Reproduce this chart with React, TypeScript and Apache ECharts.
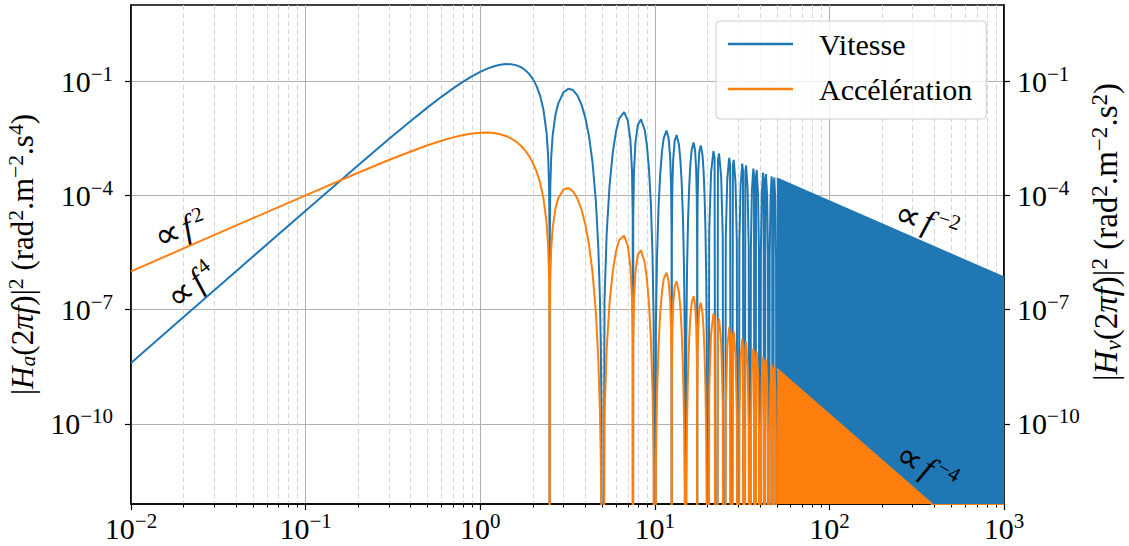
import React, { useEffect, useRef } from "react";
import * as echarts from "echarts";

// ---------------- data ----------------
// Main hump and second lobe, 0.01 Hz - 5 Hz
const FREQ_A = [0.01, 0.02, 0.05, 0.1, 0.2, 0.3, 0.4, 0.5, 0.6, 0.7, 0.8, 0.9, 1.0, 1.1, 1.2, 1.3, 1.4, 1.5, 1.6, 1.7, 1.8, 1.9, 2.0, 2.1, 2.2, 2.3, 2.4, 2.45, 2.48, 2.495, 2.5, 2.505, 2.52, 2.55, 2.6, 2.7, 2.8, 3.0, 3.2, 3.4, 3.6, 3.8, 4.0, 4.2, 4.4, 4.6, 4.75, 4.85, 4.9, 4.95];
const VIT_A = [4.0e-9, 6.4e-8, 2.49e-6, 3.97e-5, 6.2e-4, 3.02e-3, 9.02e-3, 0.0205, 0.0388, 0.0647, 0.0975, 0.1354, 0.1755, 0.2139, 0.2468, 0.2705, 0.282, 0.2798, 0.2641, 0.2364, 0.1996, 0.1576, 0.1148, 0.0753, 0.0424, 0.0184, 4.4e-3, 1.065e-3, 1.668e-4, 1.03e-5, 0, 1.02e-5, 1.616e-4, 9.83e-4, 3.75e-3, 0.01336, 0.02615, 0.051, 0.0632, 0.0585, 0.0426, 0.0246, 0.01097, 3.54e-3, 7.22e-4, 6.82e-5, 4.12e-6, 1.9e-7, 1.65e-8, 2.5e-10];
const ACC_A = [1.01e-6, 4.05e-6, 2.53e-5, 1.005e-4, 3.93e-4, 8.49e-4, 1.427e-3, 2.075e-3, 2.733e-3, 3.345e-3, 3.859e-3, 4.234e-3, 4.444e-3, 4.478e-3, 4.342e-3, 4.054e-3, 3.644e-3, 3.15e-3, 2.613e-3, 2.072e-3, 1.56e-3, 1.106e-3, 7.27e-4, 4.32e-4, 2.22e-4, 8.81e-5, 1.93e-5, 4.5e-6, 6.87e-7, 4.19e-8, 0, 4.13e-8, 6.44e-7, 3.83e-6, 1.404e-5, 4.64e-5, 8.45e-5, 1.436e-4, 1.562e-4, 1.282e-4, 8.33e-5, 4.32e-5, 1.736e-5, 5.08e-6, 9.45e-7, 8.16e-8, 4.62e-9, 2.05e-10, 1.74e-11, 2.6e-13];

// Lobes 5 Hz - 20 Hz
const FREQ_B = [
  5, 5.15, 5.3, 5.5, 5.75, 6, 6.25, 6.67, 7, 7.25, 7.4, 7.475, 7.5, 7.525, 7.6, 7.75, 8, 8.33, 8.75, 9, 9.25, 9.5, 9.7, 9.85,
  10, 10.15, 10.3, 10.5, 10.75, 11, 11.25, 11.67, 12, 12.25, 12.4, 12.475, 12.5, 12.525, 12.6, 12.75, 13, 13.33, 13.75, 14, 14.25, 14.5, 14.7, 14.85,
  15, 15.15, 15.3, 15.5, 15.75, 16, 16.25, 16.67, 17, 17.25, 17.4, 17.475, 17.5, 17.525, 17.6, 17.75, 18, 18.33, 18.75, 19, 19.25, 19.5, 19.7, 19.85,
];
const VIT_B = [
  0, 1.69e-7, 9.67e-6, 1.692e-4, 1.367e-3, 4.87e-3, 0.0104, 0.01541, 9.37e-3, 2.809e-3, 4.62e-4, 2.87e-5, 0, 2.83e-5, 4.38e-4, 2.459e-3, 7.18e-3, 9.88e-3, 5.31e-3, 2.166e-3, 5.28e-4, 5.67e-5, 2.89e-6, 4.61e-8,
  0, 4.34e-8, 2.56e-6, 4.64e-5, 3.91e-4, 1.45e-3, 3.21e-3, 5.03e-3, 3.19e-3, 9.84e-4, 1.647e-4, 1.03e-5, 0, 1.022e-5, 1.595e-4, 9.08e-4, 2.718e-3, 3.858e-3, 2.149e-3, 8.95e-4, 2.225e-4, 2.435e-5, 1.256e-6, 2.03e-8,
  0, 1.95e-8, 1.16e-6, 2.131e-5, 1.821e-4, 6.85e-4, 1.539e-3, 2.467e-3, 1.589e-3, 4.96e-4, 8.36e-5, 5.25e-6, 0, 5.22e-6, 8.18e-5, 4.69e-4, 1.418e-3, 2.04e-3, 1.156e-3, 4.86e-4, 1.219e-4, 1.346e-5, 7.0e-7, 1.14e-8,
];
const ACC_B = [
  0, 1.61e-10, 8.72e-9, 1.417e-7, 1.047e-6, 3.43e-6, 6.74e-6, 8.77e-6, 4.85e-6, 1.354e-6, 2.14e-7, 1.3e-8, 0, 1.27e-8, 1.92e-7, 1.037e-6, 2.84e-6, 3.61e-6, 1.756e-6, 6.77e-7, 1.563e-7, 1.59e-8, 7.77e-10, 1.2e-11,
  0, 1.07e-11, 6.11e-10, 1.067e-8, 8.57e-8, 3.04e-7, 6.42e-7, 9.36e-7, 5.61e-7, 1.661e-7, 2.71e-8, 1.68e-9, 0, 1.65e-9, 2.55e-8, 1.416e-7, 4.07e-7, 5.5e-7, 2.88e-7, 1.157e-7, 2.78e-8, 2.93e-9, 1.47e-10, 2.3e-12,
  0, 2.2e-12, 1.26e-10, 2.25e-9, 1.86e-8, 6.78e-8, 1.476e-7, 2.249e-7, 1.393e-7, 4.22e-8, 7.0e-9, 4.35e-10, 0, 4.3e-10, 6.69e-9, 3.77e-8, 1.108e-7, 1.538e-7, 8.33e-8, 3.41e-8, 8.33e-9, 8.97e-10, 4.57e-11, 7.3e-13,
];

// Lobes 20 Hz - 50 Hz
const FREQ_C = [
  20, 20.5, 21, 21.67, 22, 22.5, 23, 23.33, 24, 24.5,
  25, 25.5, 26, 26.67, 27, 27.5, 28, 28.33, 29, 29.5,
  30, 30.5, 31, 31.67, 32, 32.5, 33, 33.33, 34, 34.5,
  35, 35.5, 36, 36.67, 37, 37.5, 38, 38.33, 39, 39.5,
  40, 40.5, 41, 41.67, 42, 42.5, 43, 43.33, 44, 44.5,
  45, 45.5, 46, 46.67, 47, 47.5, 48, 48.33, 49, 49.5, 50,
];
const VIT_C = [
  0, 1.218e-5, 3.98e-4, 1.46e-3, 9.49e-4, 0, 8.68e-4, 1.26e-3, 3.05e-4, 8.53e-6,
  0, 7.87e-6, 2.595e-4, 9.64e-4, 6.3e-4, 0, 5.86e-4, 8.54e-4, 2.086e-4, 5.88e-6,
  0, 5.5e-6, 1.826e-4, 6.84e-4, 4.49e-4, 0, 4.22e-4, 6.17e-4, 1.518e-4, 4.3e-6,
  0, 4.06e-6, 1.354e-4, 5.1e-4, 3.36e-4, 0, 3.18e-4, 4.67e-4, 1.154e-4, 3.28e-6,
  0, 3.12e-6, 1.044e-4, 3.95e-4, 2.6e-4, 0, 2.48e-4, 3.65e-4, 9.06e-5, 2.59e-6,
  0, 2.47e-6, 8.29e-5, 3.15e-4, 2.08e-4, 0, 1.99e-4, 2.94e-4, 7.31e-5, 2.09e-6, 0,
];
const ACC_C = [
  0, 7.34e-10, 2.29e-8, 7.88e-8, 4.97e-8, 0, 4.16e-8, 5.86e-8, 1.34e-8, 3.6e-10,
  0, 3.07e-10, 9.73e-9, 3.43e-8, 2.19e-8, 0, 1.89e-8, 2.7e-8, 6.28e-9, 1.71e-10,
  0, 1.5e-10, 4.81e-9, 1.73e-8, 1.11e-8, 0, 9.81e-9, 1.41e-8, 3.33e-9, 9.15e-11,
  0, 8.17e-11, 2.65e-9, 9.6e-9, 6.21e-9, 0, 5.58e-9, 8.05e-9, 1.92e-9, 5.33e-11,
  0, 4.82e-11, 1.57e-9, 5.76e-9, 3.74e-9, 0, 3.4e-9, 4.93e-9, 1.19e-9, 3.31e-11,
  0, 3.03e-11, 9.93e-10, 3.66e-9, 2.38e-9, 0, 2.19e-9, 3.18e-9, 7.71e-10, 2.16e-11, 0,
];

// Above 50 Hz the lobes merge into a solid band under their envelope
const FREQ_ENV = [50, 1000];
const VIT_ENV = [2.8e-4, 7.0e-7];
const ACC_ENV = [2.8e-9, 1.75e-14];

const SERIES_NAMES = ["Vitesse", "Accélération"];
const X_MIN = 0.01;
const X_MAX = 1000;
const Y_MIN = 7.9e-13;
const Y_MAX = 10;
const Y_TICKS = [1e-10, 1e-7, 1e-4, 1e-1];
const X_DECADES = [0.01, 0.1, 1, 10, 100];
const X_MINOR_MULT = [2, 3, 4, 5, 6, 7, 8, 9];

const LEFT_TITLE = "{n||}{i|H}{sub|a}{n|(2}{i|πf}{n|)|}{sup|2}{n| (rad}{sup|2}{n|.m}{sup|−2}{n|.s}{sup|4}{n|)}";
const RIGHT_TITLE = "{n||}{i|H}{sub|v}{n|(2}{i|πf}{n|)|}{sup|2}{n| (rad}{sup|2}{n|.m}{sup|−2}{n|.s}{sup|2}{n|)}";

const ANNOTATIONS = [
  { text: "{p|∝}{g| }{i|f}{s|2}", x: 180, y: 229, angle: 20 },
  { text: "{p|∝}{g| }{i|f}{s|4}", x: 191, y: 285, angle: 38 },
  { text: "{p|∝}{g| }{i|f}{s|−2}", x: 927, y: 221, angle: -18 },
  { text: "{p|∝}{g| }{i|f}{s|−4}", x: 927, y: 467, angle: -30 },
];

// ---------------- styling ----------------
const BLUE = "#1f77b4";
const ORANGE = "#ff7f0e";
const FONT = "'Liberation Serif', 'DejaVu Serif', serif";
const BELOW_AXIS = 1e-30; // true zeros of the response, drawn off the bottom of the log axis

const pairs = (fs: number[], vs: number[]) => fs.map((f, i) => [f, vs[i] > 0 ? vs[i] : BELOW_AXIS]);

const powLabel = (v: number) => {
  const e = Math.round(Math.log10(v));
  return `{b|10}{e|${e < 0 ? "−" + -e : e}}`;
};

const tickRich = {
  b: { fontFamily: FONT, fontSize: 30, lineHeight: 36, color: "#000" },
  e: { fontFamily: FONT, fontSize: 21, lineHeight: 18, verticalAlign: "top", color: "#000" },
};

const makeTitleRich = (size: number, key: "color" | "fill") => ({
  n: { fontFamily: FONT, fontSize: size, lineHeight: size * 1.1, [key]: "#000" },
  i: { fontFamily: FONT, fontSize: size, lineHeight: size * 1.1, fontStyle: "italic", [key]: "#000" },
  sub: { fontFamily: FONT, fontSize: size * 0.7, lineHeight: size * 0.7, verticalAlign: "bottom", fontStyle: "italic", [key]: "#000" },
  sup: { fontFamily: FONT, fontSize: size * 0.7, lineHeight: size * 0.6, verticalAlign: "top", [key]: "#000" },
});

const annRich = {
  p: { fontFamily: "'DejaVu Sans', sans-serif", fontSize: 36, lineHeight: 36, fill: "#000" },
  g: { fontFamily: FONT, fontSize: 14, lineHeight: 36, fill: "#000" },
  i: { fontFamily: FONT, fontSize: 33, lineHeight: 36, fontStyle: "italic", fill: "#000" },
  s: { fontFamily: FONT, fontSize: 21, lineHeight: 16, verticalAlign: "top", fill: "#000", padding: [0, 0, 0, 4] },
};

function buildOption() {
  const minorX = X_DECADES.flatMap((d) => X_MINOR_MULT.map((m) => +(d * m).toPrecision(3)));
  const majorX = [...X_DECADES, X_MAX];

  const vitLines = pairs([...FREQ_A, ...FREQ_B, ...FREQ_C], [...VIT_A, ...VIT_B, ...VIT_C]);
  const accLines = pairs([...FREQ_A, ...FREQ_B, ...FREQ_C], [...ACC_A, ...ACC_B, ...ACC_C]);

  const yCommon = {
    type: "log",
    logBase: 10,
    min: Y_MIN,
    max: Y_MAX,
    axisLine: { show: true, lineStyle: { color: "#000", width: 1.5 } },
    axisTick: { show: true, inside: false, length: 6, customValues: Y_TICKS, lineStyle: { color: "#000", width: 1.2 } },
    minorTick: { show: false },
  };

  const graphics: any[] = ANNOTATIONS.map((a) => ({
    type: "text",
    x: a.x,
    y: a.y,
    rotation: (a.angle * Math.PI) / 180,
    z: 100,
    style: { text: a.text, rich: annRich, align: "center", verticalAlign: "middle", fill: "#000" },
  }));
  graphics.push({
    type: "text",
    x: 1106,
    y: 232,
    rotation: Math.PI / 2,
    z: 100,
    style: { text: RIGHT_TITLE, rich: makeTitleRich(33, "fill"), align: "center", verticalAlign: "middle", fill: "#000" },
  });

  return {
    animation: false,
    backgroundColor: "#fff",
    grid: {
      left: 131,
      right: 125,
      top: 5,
      bottom: 42,
      show: true,
      borderColor: "#000",
      borderWidth: 1.5,
      containLabel: false,
      outerBoundsMode: "none",
    },
    legend: {
      data: SERIES_NAMES,
      left: 716,
      top: 21,
      orient: "vertical",
      icon: "rect",
      itemWidth: 65,
      itemHeight: 2.5,
      itemGap: 11,
      padding: [6, 14, 13, 12],
      borderColor: "#cccccc",
      borderWidth: 1,
      borderRadius: 4,
      backgroundColor: "rgba(255,255,255,0.8)",
      selectedMode: false,
      textStyle: { fontFamily: FONT, fontSize: 30, color: "#000", lineHeight: 34, padding: [0, 0, 0, 21] },
    },
    xAxis: [
      {
        type: "log",
        logBase: 10,
        min: X_MIN,
        max: X_MAX,
        position: "bottom",
        axisLine: { show: true, lineStyle: { color: "#000", width: 1.5 } },
        axisTick: { show: true, inside: false, length: 6, customValues: majorX, lineStyle: { color: "#000", width: 1.2 } },
        axisLabel: { customValues: majorX, formatter: powLabel, rich: tickRich, margin: 6 },
        splitLine: { show: true, lineStyle: { color: "#b0b0b0", width: 1 } },
        minorTick: { show: false },
      },
      {
        type: "log",
        logBase: 10,
        min: X_MIN,
        max: X_MAX,
        position: "bottom",
        axisLine: { show: false },
        axisTick: { show: true, inside: false, length: 3.5, customValues: minorX, lineStyle: { color: "#000", width: 1 } },
        axisLabel: { show: false },
        splitLine: { show: true, lineStyle: { color: "#d6d6d6", width: 1, type: [5, 3] } },
      },
    ],
    yAxis: [
      {
        ...yCommon,
        position: "left",
        name: LEFT_TITLE,
        nameLocation: "middle",
        nameRotate: 90,
        nameGap: 77,
        nameTextStyle: { rich: makeTitleRich(31, "color"), fontFamily: FONT, fontSize: 31, lineHeight: 34, color: "#000" },
        axisLabel: { customValues: Y_TICKS, formatter: powLabel, rich: tickRich, margin: 18 },
        splitLine: { show: true, lineStyle: { color: "#b0b0b0", width: 1 } },
      },
      {
        ...yCommon,
        position: "right",
        axisLabel: { customValues: Y_TICKS, formatter: powLabel, rich: tickRich, margin: 13 },
        splitLine: { show: false },
      },
    ],
    series: [
      {
        name: SERIES_NAMES[0],
        type: "line",
        xAxisIndex: 0,
        yAxisIndex: 0,
        data: vitLines,
        symbol: "none",
        clip: true,
        color: BLUE,
        lineStyle: { color: BLUE, width: 2 },
      },
      {
        name: SERIES_NAMES[0],
        type: "line",
        xAxisIndex: 0,
        yAxisIndex: 0,
        data: pairs(FREQ_ENV, VIT_ENV),
        symbol: "none",
        clip: true,
        color: BLUE,
        lineStyle: { color: BLUE, width: 2 },
        areaStyle: { color: BLUE, opacity: 1, origin: "start" },
      },
      {
        name: SERIES_NAMES[1],
        type: "line",
        xAxisIndex: 0,
        yAxisIndex: 0,
        data: accLines,
        symbol: "none",
        clip: true,
        color: ORANGE,
        lineStyle: { color: ORANGE, width: 2 },
      },
      {
        name: SERIES_NAMES[1],
        type: "line",
        xAxisIndex: 0,
        yAxisIndex: 0,
        data: pairs(FREQ_ENV, ACC_ENV),
        symbol: "none",
        clip: true,
        color: ORANGE,
        lineStyle: { color: ORANGE, width: 2 },
        areaStyle: { color: ORANGE, opacity: 1, origin: "start" },
      },
    ],
    graphic: graphics,
  };
}

export default function App() {
  const ref = useRef<HTMLDivElement>(null);
  useEffect(() => {
    if (!ref.current) return;
    const chart = echarts.init(ref.current, null, { renderer: "svg" });
    chart.setOption(buildOption() as any);
    return () => chart.dispose();
  }, []);
  return (
    <div
      ref={ref}
      style={{ position: "fixed", left: 0, top: 0, width: 1129, height: 546, background: "#fff" }}
    />
  );
}
